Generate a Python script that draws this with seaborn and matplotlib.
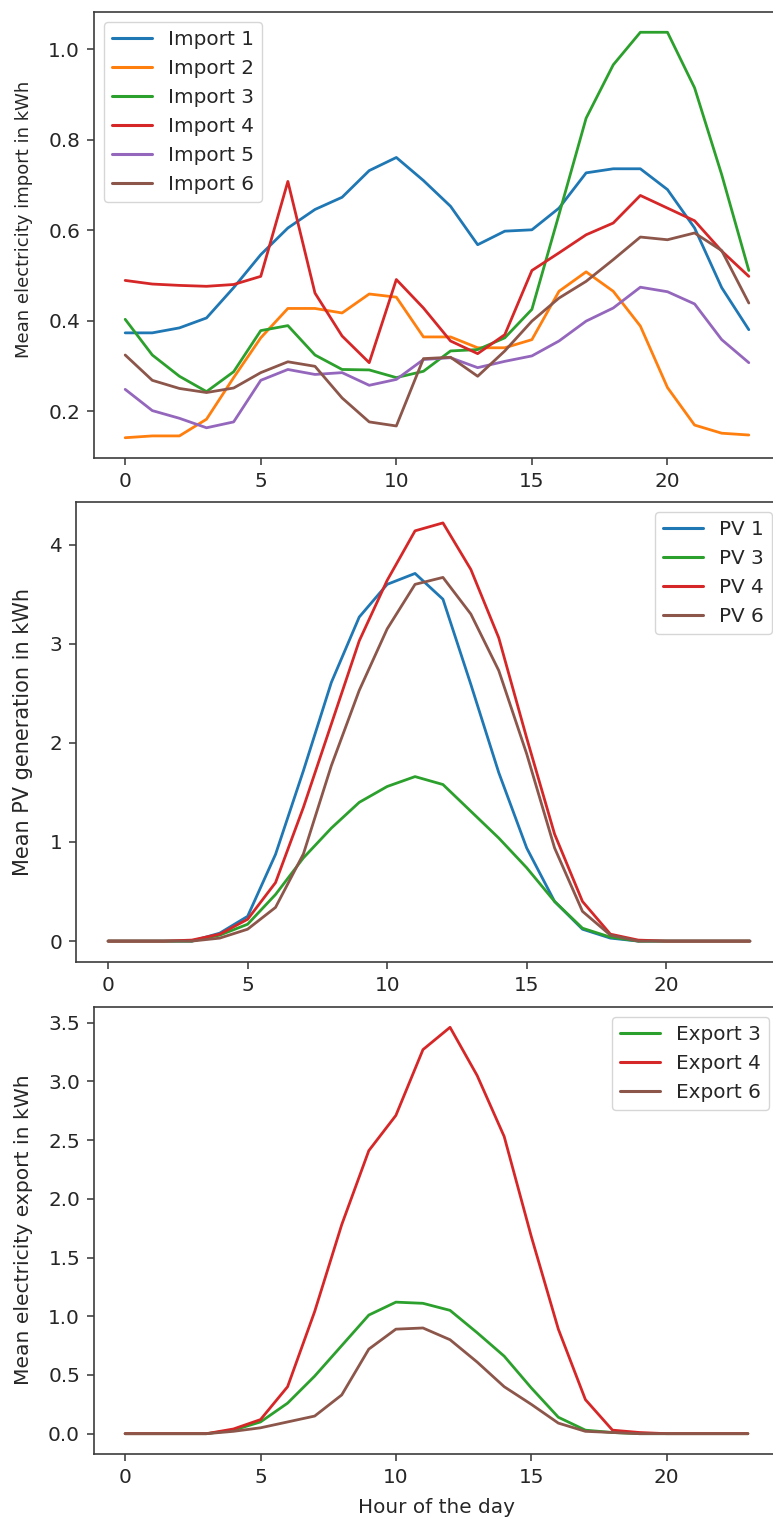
import numpy as np
import pandas as pd
import matplotlib
matplotlib.use("Agg")
import matplotlib.pyplot as plt
import seaborn as sns

hours = list(range(24))

# Mean hourly grid import per household (kWh)
import_1 = [0.373, 0.373, 0.384, 0.406, 0.473, 0.546, 0.605, 0.646, 0.673, 0.732, 0.761, 0.710,
            0.653, 0.568, 0.598, 0.601, 0.649, 0.727, 0.736, 0.736, 0.690, 0.605, 0.473, 0.380]
import_2 = [0.141, 0.145, 0.145, 0.182, 0.274, 0.362, 0.427, 0.427, 0.417, 0.459, 0.452, 0.364,
            0.364, 0.340, 0.340, 0.358, 0.465, 0.508, 0.465, 0.388, 0.252, 0.169, 0.151, 0.147]
import_3 = [0.403, 0.324, 0.277, 0.243, 0.287, 0.378, 0.389, 0.324, 0.292, 0.291, 0.274, 0.288,
            0.333, 0.336, 0.362, 0.425, 0.635, 0.848, 0.966, 1.038, 1.038, 0.915, 0.723, 0.511]
import_4 = [0.489, 0.481, 0.478, 0.476, 0.480, 0.498, 0.708, 0.461, 0.366, 0.307, 0.491, 0.428,
            0.355, 0.327, 0.369, 0.511, 0.550, 0.590, 0.616, 0.677, 0.649, 0.621, 0.554, 0.498]
import_5 = [0.248, 0.201, 0.184, 0.163, 0.176, 0.268, 0.292, 0.281, 0.285, 0.257, 0.270, 0.314,
            0.318, 0.296, 0.310, 0.322, 0.355, 0.399, 0.428, 0.474, 0.464, 0.437, 0.358, 0.307]
import_6 = [0.324, 0.268, 0.250, 0.241, 0.251, 0.285, 0.309, 0.299, 0.229, 0.176, 0.167, 0.316,
            0.319, 0.277, 0.333, 0.399, 0.450, 0.487, 0.535, 0.585, 0.579, 0.594, 0.555, 0.439]

# Mean hourly PV generation (kWh)
pv_1 = [0.0, 0.0, 0.0, 0.0, 0.08, 0.25, 0.875, 1.72, 2.61, 3.27, 3.60, 3.71,
        3.45, 2.59, 1.70, 0.94, 0.40, 0.12, 0.03, 0.0, 0.0, 0.0, 0.0, 0.0]
pv_3 = [0.0, 0.0, 0.0, 0.0, 0.06, 0.17, 0.47, 0.84, 1.14, 1.40, 1.56, 1.66,
        1.58, 1.31, 1.04, 0.74, 0.40, 0.13, 0.04, 0.0, 0.0, 0.0, 0.0, 0.0]
pv_4 = [0.0, 0.0, 0.0, 0.01, 0.07, 0.22, 0.59, 1.35, 2.19, 3.03, 3.64, 4.14,
        4.22, 3.75, 3.06, 2.05, 1.08, 0.40, 0.07, 0.01, 0.0, 0.0, 0.0, 0.0]
pv_6 = [0.0, 0.0, 0.0, 0.0, 0.03, 0.12, 0.34, 0.88, 1.77, 2.53, 3.15, 3.60,
        3.67, 3.30, 2.73, 1.89, 0.94, 0.30, 0.06, 0.0, 0.0, 0.0, 0.0, 0.0]

# Mean hourly grid export (kWh)
export_3 = [0.0, 0.0, 0.0, 0.0, 0.03, 0.10, 0.26, 0.49, 0.75, 1.01, 1.12, 1.11,
            1.05, 0.86, 0.66, 0.39, 0.14, 0.03, 0.01, 0.0, 0.0, 0.0, 0.0, 0.0]
export_4 = [0.0, 0.0, 0.0, 0.0, 0.04, 0.12, 0.40, 1.04, 1.78, 2.41, 2.71, 3.27,
            3.46, 3.05, 2.53, 1.68, 0.89, 0.29, 0.03, 0.01, 0.0, 0.0, 0.0, 0.0]
export_6 = [0.0, 0.0, 0.0, 0.0, 0.02, 0.05, 0.10, 0.15, 0.33, 0.72, 0.89, 0.90,
            0.80, 0.61, 0.40, 0.25, 0.09, 0.02, 0.01, 0.0, 0.0, 0.0, 0.0, 0.0]

tab = sns.color_palette("tab10")
c_blue, c_orange, c_green, c_red, c_purple, c_brown = tab[0], tab[1], tab[2], tab[3], tab[4], tab[5]

import_series = {"Import 1": import_1, "Import 2": import_2, "Import 3": import_3,
                 "Import 4": import_4, "Import 5": import_5, "Import 6": import_6}
pv_series = {"PV 1": pv_1, "PV 3": pv_3, "PV 4": pv_4, "PV 6": pv_6}
export_series = {"Export 3": export_3, "Export 4": export_4, "Export 6": export_6}

import_colors = [c_blue, c_orange, c_green, c_red, c_purple, c_brown]
pv_colors = [c_blue, c_green, c_red, c_brown]
export_colors = [c_green, c_red, c_brown]


def to_long(series):
    frames = [pd.DataFrame({"hour": hours, "value": vals, "series": name})
              for name, vals in series.items()]
    return pd.concat(frames, ignore_index=True)


sns.set_style("ticks")
plt.rcParams.update({
    "font.family": ["DejaVu Sans"],
    "font.size": 14.4,
    "axes.edgecolor": "#3c3c3c",
    "axes.linewidth": 1.2,
    "xtick.color": "#3c3c3c",
    "ytick.color": "#3c3c3c",
    "xtick.labelcolor": "#262626",
    "ytick.labelcolor": "#262626",
    "xtick.major.size": 5,
    "ytick.major.size": 5,
    "xtick.major.pad": 5,
    "ytick.major.pad": 5,
    "xtick.major.width": 1.15,
    "ytick.major.width": 1.15,
    "xtick.labelsize": 14.4,
    "ytick.labelsize": 14.4,
    "axes.labelsize": 14.4,
    "axes.labelcolor": "#262626",
    "legend.fontsize": 14.4,
})

W, H = 773, 1522
fig = plt.figure(figsize=(W / 100, H / 100), dpi=100)


def axes_px(left, top, right, bottom):
    return fig.add_axes([left / W, 1 - bottom / H, (right - left) / W, (bottom - top) / H])


# pixel boxes of the three stacked panels (left, top, right, bottom)
boxes = [(94, 12, 780, 458), (76, 502, 782, 962), (94, 1007, 779, 1454)]
axs = [axes_px(*b) for b in boxes]

panels = [
    (import_series, import_colors, "Mean electricity import in kWh", 13.0, "upper left",
     [0.2, 0.4, 0.6, 0.8, 1.0], 219),
    (pv_series, pv_colors, "Mean PV generation in kWh", 15.0, "upper right",
     [0, 1, 2, 3, 4], 732),
    (export_series, export_colors, "Mean electricity export in kWh", 14.6, "upper right",
     [0.0, 0.5, 1.0, 1.5, 2.0, 2.5, 3.0, 3.5], 1230),
]

for ax, box, (series, colors, ylabel, ysize, loc, yticks, label_y) in zip(axs, boxes, panels):
    df = to_long(series)
    sns.lineplot(data=df, x="hour", y="value", hue="series", palette=colors,
                 linewidth=2.0, ax=ax)
    ax.set_xlabel("")
    ax.set_ylabel(ylabel, fontsize=ysize)
    left, top, right, bottom = box
    ax.yaxis.set_label_coords((33 - left) / (right - left), (bottom - label_y) / (bottom - top))
    ax.set_xticks([0, 5, 10, 15, 20])
    ax.set_yticks(yticks)
    ax.set_xlim(-1.15, 24.15)
    leg = ax.legend(loc=loc, frameon=True, fancybox=True, framealpha=0.8,
                    edgecolor="#cccccc", handlelength=2.0)
    for line in leg.get_lines():
        line.set_linewidth(2.2)
    for spine in ax.spines.values():
        spine.set_visible(True)

axs[2].set_xlabel("Hour of the day", labelpad=8)

fig.savefig("out.png", dpi=100)
